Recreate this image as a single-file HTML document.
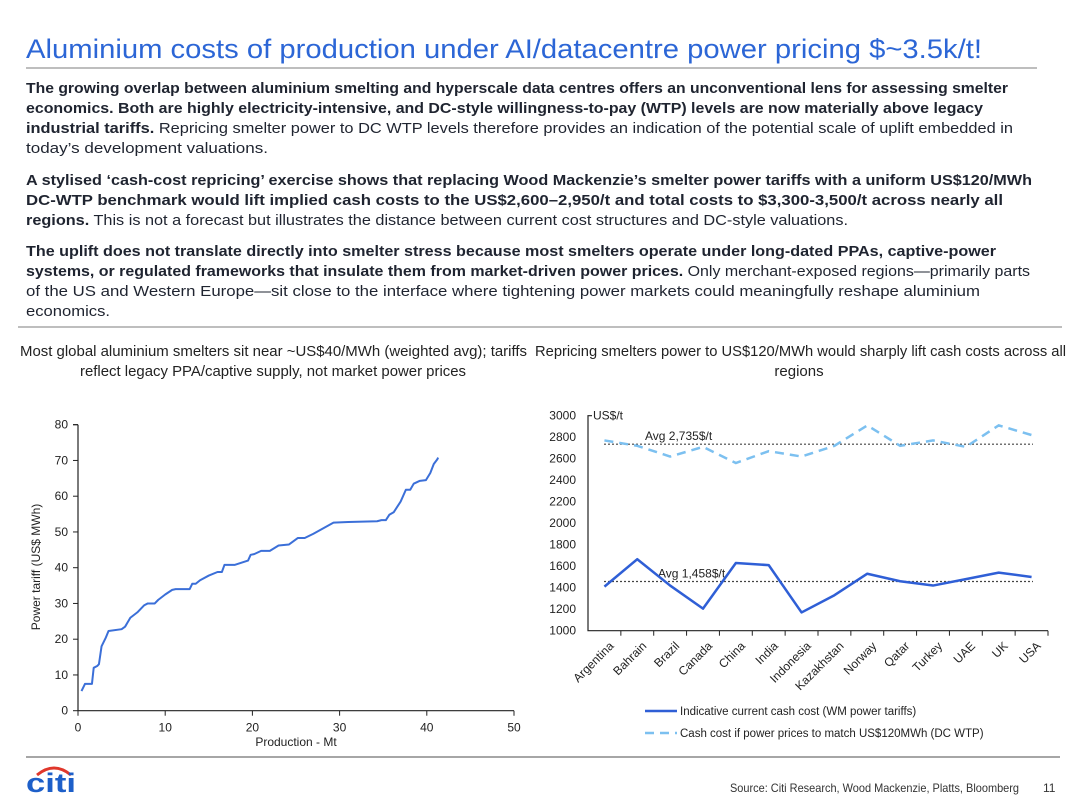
<!DOCTYPE html>
<html><head><meta charset="utf-8"><style>
html,body{margin:0;padding:0;background:#fff;}
svg{display:block;font-family:"Liberation Sans",sans-serif;}
.b{font-weight:bold;}
.p{font-size:15px;fill:#1f2430;}
</style></head><body>
<svg id="page" width="1080" height="810" viewBox="0 0 1080 810">
<text x="26" y="58" font-size="27" fill="#2c66d6" textLength="956" lengthAdjust="spacingAndGlyphs">Aluminium costs of production under AI/datacentre power pricing $~3.5k/t!</text>
<line x1="26" y1="68" x2="1037" y2="68" stroke="#a8a8a8" stroke-width="1.5"/>
<g class="p">
<text x="26" y="93" textLength="982" lengthAdjust="spacingAndGlyphs" class="b">The growing overlap between aluminium smelting and hyperscale data centres offers an unconventional lens for assessing smelter</text>
<text x="26" y="113" textLength="957" lengthAdjust="spacingAndGlyphs" class="b">economics. Both are highly electricity-intensive, and DC-style willingness-to-pay (WTP) levels are now materially above legacy</text>
<text x="26" y="133" textLength="987" lengthAdjust="spacingAndGlyphs"><tspan class="b">industrial tariffs.</tspan> Repricing smelter power to DC WTP levels therefore provides an indication of the potential scale of uplift embedded in</text>
<text x="26" y="153" textLength="242" lengthAdjust="spacingAndGlyphs">today’s development valuations.</text>
<text x="26" y="185" textLength="1006" lengthAdjust="spacingAndGlyphs" class="b">A stylised ‘cash-cost repricing’ exercise shows that replacing Wood Mackenzie’s smelter power tariffs with a uniform US$120/MWh</text>
<text x="26" y="205" textLength="977" lengthAdjust="spacingAndGlyphs" class="b">DC-WTP benchmark would lift implied cash costs to the US$2,600–2,950/t and total costs to $3,300-3,500/t across nearly all</text>
<text x="26" y="225" textLength="822" lengthAdjust="spacingAndGlyphs"><tspan class="b">regions.</tspan> This is not a forecast but illustrates the distance between current cost structures and DC-style valuations.</text>
<text x="26" y="256" textLength="970" lengthAdjust="spacingAndGlyphs" class="b">The uplift does not translate directly into smelter stress because most smelters operate under long-dated PPAs, captive-power</text>
<text x="26" y="276" textLength="1004" lengthAdjust="spacingAndGlyphs"><tspan class="b">systems, or regulated frameworks that insulate them from market-driven power prices.</tspan> Only merchant-exposed regions—primarily parts</text>
<text x="26" y="296" textLength="954" lengthAdjust="spacingAndGlyphs">of the US and Western Europe—sit close to the interface where tightening power markets could meaningfully reshape aluminium</text>
<text x="26" y="316" textLength="84" lengthAdjust="spacingAndGlyphs">economics.</text>
</g>
<line x1="18" y1="327" x2="1062" y2="327" stroke="#a8a8a8" stroke-width="1.5"/>
<g font-size="15" fill="#222">
<text x="20" y="356" textLength="507" lengthAdjust="spacingAndGlyphs">Most global aluminium smelters sit near ~US$40/MWh (weighted avg); tariffs</text>
<text x="80" y="376" textLength="386" lengthAdjust="spacingAndGlyphs">reflect legacy PPA/captive supply, not market power prices</text>
<text x="535" y="356" textLength="531" lengthAdjust="spacingAndGlyphs">Repricing smelters power to US$120/MWh would sharply lift cash costs across all</text>
<text x="799" y="376" text-anchor="middle">regions</text>
</g>
<g id="left"></g>
<g id="right"></g>
<line x1="26" y1="757" x2="1060" y2="757" stroke="#888" stroke-width="1.5"/>
<g>
<path d="M37,775 Q54,761 71,775" fill="none" stroke="#e0372b" stroke-width="3"/>
<text x="26" y="792" font-size="27" font-weight="bold" fill="#1d5fc9" textLength="50" lengthAdjust="spacingAndGlyphs">citi</text>
</g>
<text x="730" y="792" font-size="12" fill="#333" textLength="289" lengthAdjust="spacingAndGlyphs">Source: Citi Research, Wood Mackenzie, Platts, Bloomberg</text>
<text x="1043" y="792" font-size="12" fill="#333">11</text>
</svg>
<script>
// ---- Left chart data ----
const prodX = [0.4,0.8,1.6,1.8,2.2,2.4,2.7,3.2,3.5,5,5.4,6,6.8,7.6,8,8.8,9.2,10,10.8,11.2,12.8,13.1,13.5,14,15,16,16.5,16.8,18,19.5,19.8,20.2,21,22,23,24.2,25.2,26,27,29.3,31,34.3,34.8,35.3,35.7,36.2,37,37.6,38.1,38.5,39.2,39.9,40.4,40.8,41.2,41.3];
const tariffY = [5.5,7.5,7.5,12,12.5,13,18,20.5,22.3,22.8,23.5,26,27.5,29.5,30,30,31,32.5,33.8,34,34,35.5,35.5,36.5,37.8,38.8,38.8,40.8,40.8,42,43.6,43.8,44.7,44.7,46.2,46.5,48.3,48.3,49.5,52.6,52.8,53,53.3,53.3,54.8,55.5,58.5,61.8,61.8,63.5,64.3,64.5,66.5,69,70.3,70.8];
const leftXTicks = [0,10,20,30,40,50];
const leftYTicks = [0,10,20,30,40,50,60,70,80];
// ---- Right chart data ----
const countries = ["Argentina","Bahrain","Brazil","Canada","China","India","Indonesia","Kazakhstan","Norway","Qatar","Turkey","UAE","UK","USA"];
const currentCost = [1410,1665,1420,1205,1630,1610,1170,1330,1530,1460,1420,1480,1540,1500];
const dcCost = [2770,2720,2620,2710,2560,2670,2620,2720,2910,2720,2770,2710,2910,2820];
const avgCurrent = [1458];
const avgDc = [2735];
const rightYTicks = [1000,1200,1400,1600,1800,2000,2200,2400,2600,2800,3000];

const NS="http://www.w3.org/2000/svg";
function mk(parent,tag,attrs,txt){const e=document.createElementNS(NS,tag);for(const k in attrs)e.setAttribute(k,attrs[k]);if(txt!==undefined)e.textContent=txt;parent.appendChild(e);return e;}

// Left chart
const L=document.getElementById('left');
const lx=v=>78+v*(514-78)/50;
const ly=v=>710.7-v*(710.7-424.7)/80;
let ax=mk(L,'path',{d:`M${lx(0)},${ly(80)}H${lx(0)-5}M${lx(0)},${ly(80)}V${ly(0)}H${lx(50)}`,fill:'none',stroke:'#222','stroke-width':1.2});


leftYTicks.forEach(t=>{
  const tk=mk(L,'line',{x1:lx(0)-5,x2:lx(0),y1:ly(t),y2:ly(t),stroke:'#222'});
  
  
  const tl=mk(L,'text',{x:lx(0)-10,y:ly(t)+4,'font-size':12,'text-anchor':'end',fill:'#222'},t);
  
  
});
leftXTicks.forEach(t=>{
  const tk=mk(L,'line',{x1:lx(t),x2:lx(t),y1:ly(0),y2:ly(0)+5,stroke:'#222'});
  
  
  const tl=mk(L,'text',{x:lx(t),y:ly(0)+21,'font-size':12,'text-anchor':'middle',fill:'#222'},t);
  
  
});
let xt=mk(L,'text',{x:296,y:746,'font-size':12,'text-anchor':'middle',fill:'#222'},'Production - Mt');


let yt=mk(L,'text',{x:0,y:0,'font-size':12,'text-anchor':'middle',fill:'#222',transform:`translate(40,567) rotate(-90)`},'Power tariff (US$ MWh)');


let cl=mk(L,'polyline',{points:prodX.map((x,i)=>lx(x)+','+ly(tariffY[i])).join(' '),fill:'none',stroke:'#3b6fd8','stroke-width':2,'stroke-linejoin':'round'});



// Right chart
const R=document.getElementById('right');
const x0=588,x1=1048,cw=(x1-x0)/countries.length;
const rx=i=>x0+cw*(i+0.5);
const ry=v=>630.7-(v-1000)*(630.7-415.7)/2000;
let rax=mk(R,'path',{d:`M${x0+4},${ry(3000)}H${x0}V${ry(1000)}H${x1}`,fill:'none',stroke:'#222','stroke-width':1.2});


rightYTicks.forEach(t=>{
  const tl=mk(R,'text',{x:x0-12,y:ry(t)+4,'font-size':12,'text-anchor':'end',fill:'#222'},t);
  
  
});
let ut=mk(R,'text',{x:x0+5,y:ry(3000)+4,'font-size':12,fill:'#222'},'US$/t');


countries.forEach((c,i)=>{
  const tk=mk(R,'line',{x1:x0+cw*(i+1),x2:x0+cw*(i+1),y1:ry(1000),y2:ry(1000)+5,stroke:'#222'});
  
  
  const tl=mk(R,'text',{x:0,y:0,'font-size':12,'text-anchor':'end',fill:'#222',transform:`translate(${rx(i)+10},${ry(1000)+16}) rotate(-45)`},c);
  
  
});
[[avgDc[0],'Avg 2,735$/t',645],[avgCurrent[0],'Avg 1,458$/t',658]].forEach(([v,lab,tx])=>{
  const l=mk(R,'line',{x1:x0+16,x2:x1-15,y1:ry(v),y2:ry(v),stroke:'#444','stroke-dasharray':'2,2','stroke-width':1.2});
  
  
  const t=mk(R,'text',{x:tx,y:ry(v)-4,'font-size':12,fill:'#222'},lab);
  
  
});
let dl=mk(R,'polyline',{points:dcCost.map((v,i)=>rx(i)+','+ry(v)).join(' '),fill:'none',stroke:'#7cc0f0','stroke-width':2.5,'stroke-dasharray':'9,6'});


let sl=mk(R,'polyline',{points:currentCost.map((v,i)=>rx(i)+','+ry(v)).join(' '),fill:'none',stroke:'#2f5fd6','stroke-width':2.5,'stroke-linejoin':'round'});


// legend
let lg1=mk(R,'line',{x1:645,x2:677,y1:711,y2:711,stroke:'#2f5fd6','stroke-width':2.5});


let lt1=mk(R,'text',{x:680,y:715,'font-size':11.5,fill:'#222'},'Indicative current cash cost (WM power tariffs)');


let lg2=mk(R,'line',{x1:645,x2:677,y1:733,y2:733,stroke:'#7cc0f0','stroke-width':2.5,'stroke-dasharray':'9,6'});


let lt2=mk(R,'text',{x:680,y:737,'font-size':11.5,fill:'#222'},'Cash cost if power prices to match US$120MWh (DC WTP)');


</script>
</body></html>
